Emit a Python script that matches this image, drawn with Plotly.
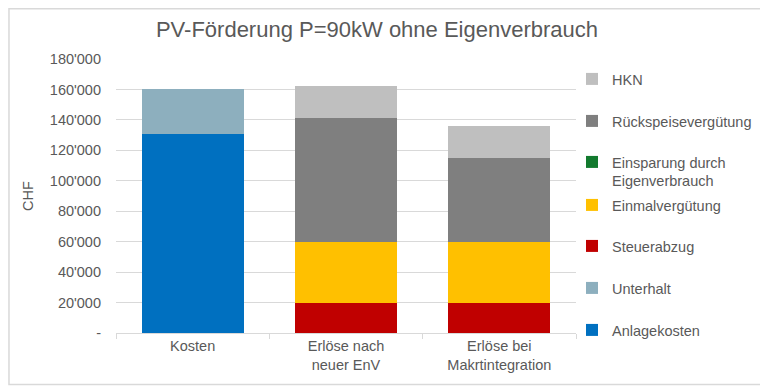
import plotly.graph_objects as go

categories = ["Kosten", "Erlöse nach<br>neuer EnV", "Erlöse bei<br>Makrtintegration"]

anlagekosten = [131000, 0, 0]
unterhalt = [29000, 0, 0]
steuerabzug = [0, 20000, 20000]
einmalverguetung = [0, 40000, 40000]
einsparung = [0, 0, 0]
rueckspeise = [0, 81000, 55000]
hkn = [0, 21000, 21000]

tick_vals = [0, 20000, 40000, 60000, 80000, 100000, 120000, 140000, 160000, 180000]
tick_text = ["-", "20'000", "40'000", "60'000", "80'000", "100'000", "120'000", "140'000", "160'000", "180'000"]

series = [
    ("Anlagekosten", anlagekosten, "#0070C0"),
    ("Unterhalt", unterhalt, "#8DAFBE"),
    ("Steuerabzug", steuerabzug, "#C00000"),
    ("Einmalvergütung", einmalverguetung, "#FFC000"),
    ("Einsparung durch<br>Eigenverbrauch", einsparung, "#127A2E"),
    ("Rückspeisevergütung", rueckspeise, "#7F7F7F"),
    ("HKN", hkn, "#BFBFBF"),
]

# page body adds an 8px offset; build figure in shifted coordinates
OFF = 8
W, H = 768 - OFF, 386 - OFF
L, T = 116 - OFF, 59 - OFF
plot_bottom = 333 - OFF
plot_right = 577 - OFF
B = H - plot_bottom
R = W - plot_right
plot_h = plot_bottom - T
plot_w = plot_right - L

# legend entry centres (reference pixels from top)
legend_px = [330, 288, 246, 205, 171.5, 121, 79]

FONT = "Liberation Sans, Arial, sans-serif"
GREY = "#595959"

fig = go.Figure()
layout_legends = {}
for i, (name, vals, col) in enumerate(series):
    lname = "legend" if i == 0 else f"legend{i+1}"
    fig.add_trace(go.Bar(
        x=categories, y=vals, name=name,
        marker=dict(color=col, line=dict(width=0)),
        legend=lname,
    ))
    layout_legends[lname] = dict(
        x=(572 - OFF - L) / plot_w, xanchor="left",
        y=(plot_bottom - (legend_px[i] - OFF)) / plot_h, yanchor="middle",
        valign="top",
        bgcolor="rgba(0,0,0,0)",
        font=dict(family=FONT, size=14.5, color=GREY),
    )

fig.update_layout(
    width=W, height=H,
    margin=dict(l=L, r=R, t=T, b=B),
    barmode="stack",
    bargap=0.335,
    plot_bgcolor="white",
    paper_bgcolor="white",
    showlegend=True,
    title=dict(
        text="PV-Förderung P=90kW ohne Eigenverbrauch",
        x=(377 - OFF) / W, xref="container", xanchor="center",
        y=1 - (29 - OFF) / H, yref="container", yanchor="middle",
        font=dict(family=FONT, size=22, color=GREY),
    ),
    font=dict(family=FONT, size=14.5, color=GREY),
    xaxis=dict(
        showline=True, linecolor="#D9D9D9", linewidth=1,
        ticks="outside", tickson="boundaries", ticklen=5, tickcolor="#D9D9D9",
        tickfont=dict(family=FONT, size=14.5, color=GREY),
        showgrid=False,
    ),
    yaxis=dict(
        range=[0, 180000],
        tickvals=tick_vals, ticktext=tick_text,
        showgrid=True, gridcolor="#D9D9D9", gridwidth=1,
        zeroline=False, showline=False, ticks="",
        ticklabelstandoff=14,
        tickfont=dict(family=FONT, size=14.5, color=GREY),
        title=dict(text="CHF", font=dict(family=FONT, size=14.5, color=GREY), standoff=12),
    ),
    **layout_legends,
)

# outer chart frame
fig.add_shape(
    type="rect", xref="paper", yref="paper",
    x0=(0.75 - L) / plot_w, x1=(765 - OFF - L) / plot_w,
    y0=(plot_bottom - (384.5 - OFF)) / plot_h, y1=(plot_bottom - 0.75) / plot_h,
    line=dict(color="#D9D9D9", width=1.5), fillcolor="rgba(0,0,0,0)",
    layer="below",
)

fig.write_html("out.html")
